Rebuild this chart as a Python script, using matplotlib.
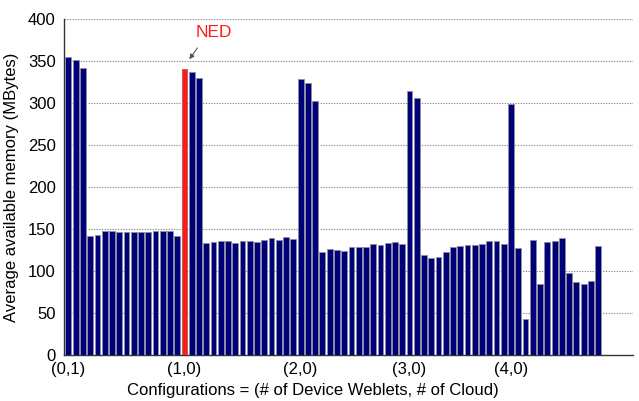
import matplotlib
matplotlib.use("Agg")
import matplotlib.pyplot as plt
import numpy as np

# Average available memory per configuration (MBytes)
memory = [354, 351, 341,
          142, 143, 147, 147, 146, 146, 146, 146, 146, 147, 147, 147, 141,
          340, 336, 330,
          133, 134, 136, 135, 133, 136, 136, 134, 137, 139, 137, 140, 138,
          328, 324, 302,
          122, 126, 125, 124, 128, 129, 129, 132, 131, 133, 134, 132,
          314, 306,
          119, 115, 117, 123, 129, 130, 131, 131, 132, 135, 135, 132,
          298,
          127, 43, 137, 85, 134, 136, 139, 97, 87, 85, 88, 130]
tick_positions = [0, 16, 32, 47, 61]
tick_labels = ['(0,1)', '(1,0)', '(2,0)', '(3,0)', '(4,0)']
ned_index = 16
ned_label = 'NED'

plt.rcParams['font.family'] = ['Liberation Sans', 'DejaVu Sans']

fig = plt.figure(figsize=(6.39, 4.01), dpi=100)
ax = fig.add_axes([0.1002, 0.1147, 0.8904, 0.8387])

x = np.arange(len(memory))
colors = ['#00007a'] * len(memory)
colors[ned_index] = '#ff1a1a'
edges = ['#8c8ca4'] * len(memory)
edges[ned_index] = '#c06060'
ax.bar(x, memory, width=0.80, color=colors, edgecolor=edges, linewidth=0.7, zorder=3)

ax.set_xlim(-0.6, 77.8)
ax.set_ylim(0, 400)
ax.set_yticks(np.arange(0, 401, 50))
ax.set_xticks(tick_positions)
ax.set_xticklabels(tick_labels)
ax.tick_params(axis='both', length=0, labelsize=12)
ax.tick_params(axis='y', pad=6)
ax.tick_params(axis='x', pad=5)

for yv in np.arange(50, 401, 50):
    ax.axhline(yv, color='#8a8a8a', linestyle=(0, (1.2, 1.2)), linewidth=0.8, zorder=1)

for s in ['top', 'right']:
    ax.spines[s].set_visible(False)
for s in ['left', 'bottom']:
    ax.spines[s].set_color('#333333')
    ax.spines[s].set_linewidth(1.0)

ax.set_ylabel('Average available memory (MBytes)', fontsize=12, labelpad=6)
ax.set_xlabel('Configurations = (# of Device Weblets, # of Cloud)', fontsize=12, labelpad=4)
ax.xaxis.set_label_coords(0.4376, -0.083)

ax.annotate('', xy=(ned_index + 0.45, memory[ned_index] + 9),
            xytext=(ned_index + 2.0, memory[ned_index] + 28),
            arrowprops=dict(arrowstyle='-|>', color='#555555', lw=0.8, mutation_scale=7))
ax.text(ned_index + 4.0, memory[ned_index] + 43, ned_label, color='#ff1a1a',
        fontsize=12.5, ha='center', va='center')

fig.savefig('out.png', dpi=100)
